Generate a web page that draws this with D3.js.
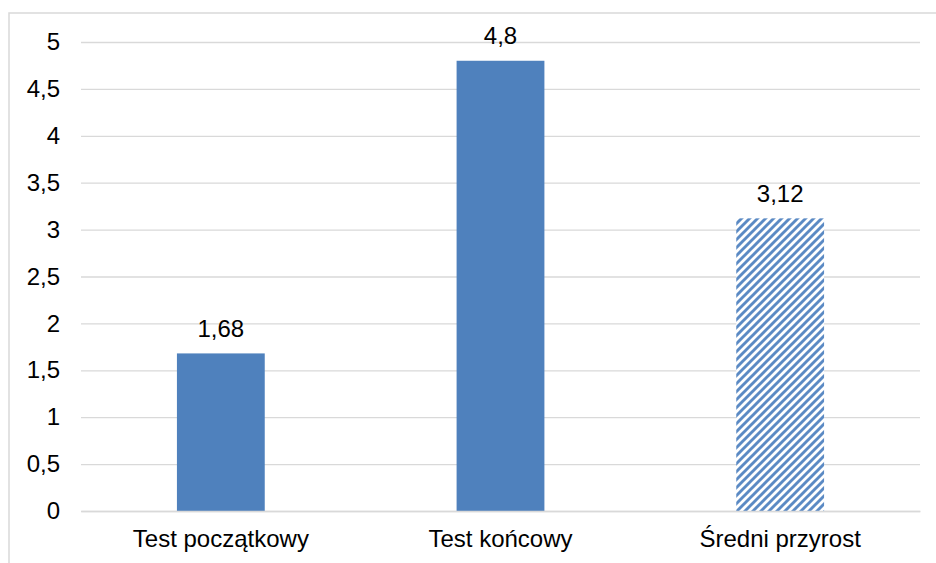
<!DOCTYPE html>
<html><head><meta charset="utf-8">
<script src="https://cdn.jsdelivr.net/npm/d3@7"></script>
<style>body{margin:0;background:#fff}svg{display:block}</style>
</head><body>
<svg id="c" width="936" height="563"></svg>
<script>
const categories = ["Test początkowy", "Test końcowy", "Średni przyrost"];
const values = [1.68, 4.8, 3.12];
const valueLabels = ["1,68", "4,8", "3,12"];
const hatched = [false, false, true];
const yTicks = [0, 0.5, 1, 1.5, 2, 2.5, 3, 3.5, 4, 4.5, 5];
const yTickLabels = ["0", "0,5", "1", "1,5", "2", "2,5", "3", "3,5", "4", "4,5", "5"];

const svg = d3.select("#c");
const font = "Liberation Sans, Arial, sans-serif";
const fs = 24;
const blue = "#4F81BD";

const defs = svg.append("defs");
const pat = defs.append("pattern").attr("id", "hatch")
  .attr("patternUnits", "userSpaceOnUse").attr("width", 8).attr("height", 8);
pat.append("rect").attr("width", 8).attr("height", 8).attr("fill", "#fff");
pat.append("path").attr("d", "M-2,2 L2,-2 M0,8 L8,0 M6,10 L10,6")
  .attr("stroke", "#5B8AC4").attr("stroke-width", 2.9);

// frame
svg.append("path").attr("d", "M9,563 L9,13 L936,13")
  .attr("fill", "none").attr("stroke", "#D9D9D9").attr("stroke-width", 1.5);

const x = d3.scaleBand().domain(categories).range([81, 920]).paddingInner(0.686).paddingOuter(0.343);
const y = d3.scaleLinear().domain([0, 5]).range([511, 42]);

// gridlines
const yAxis = d3.axisLeft(y).tickValues(yTicks).tickSize(-(920 - 81)).tickPadding(21)
  .tickFormat((d, i) => yTickLabels[i]);
const ga = svg.append("g").attr("transform", "translate(81,0)").call(yAxis);
ga.select(".domain").remove();
ga.selectAll(".tick line").attr("stroke", "#D9D9D9").attr("stroke-width", 1.3);
ga.selectAll(".tick text").attr("font-family", font).attr("font-size", fs).attr("fill", "#000");

// bars
svg.append("g").selectAll("rect").data(values).join("rect")
  .attr("x", (d, i) => x(categories[i]))
  .attr("width", x.bandwidth())
  .attr("y", d => y(d))
  .attr("height", d => y(0) - y(d))
  .attr("fill", (d, i) => hatched[i] ? "url(#hatch)" : blue);

// value labels
svg.append("g").selectAll("text").data(values).join("text")
  .attr("x", (d, i) => x(categories[i]) + x.bandwidth() / 2)
  .attr("y", d => y(d) - 16.5)
  .attr("text-anchor", "middle")
  .attr("font-family", font).attr("font-size", fs).attr("fill", "#000")
  .text((d, i) => valueLabels[i]);

// x axis
const xAxis = d3.axisBottom(x).tickSize(0).tickPadding(19);
const gx = svg.append("g").attr("transform", "translate(0,511)").call(xAxis);
gx.select(".domain").attr("stroke", "#D9D9D9").attr("stroke-width", 1.3);
gx.selectAll(".tick text").attr("font-family", font).attr("font-size", fs).attr("fill", "#000");
</script>
</body></html>
